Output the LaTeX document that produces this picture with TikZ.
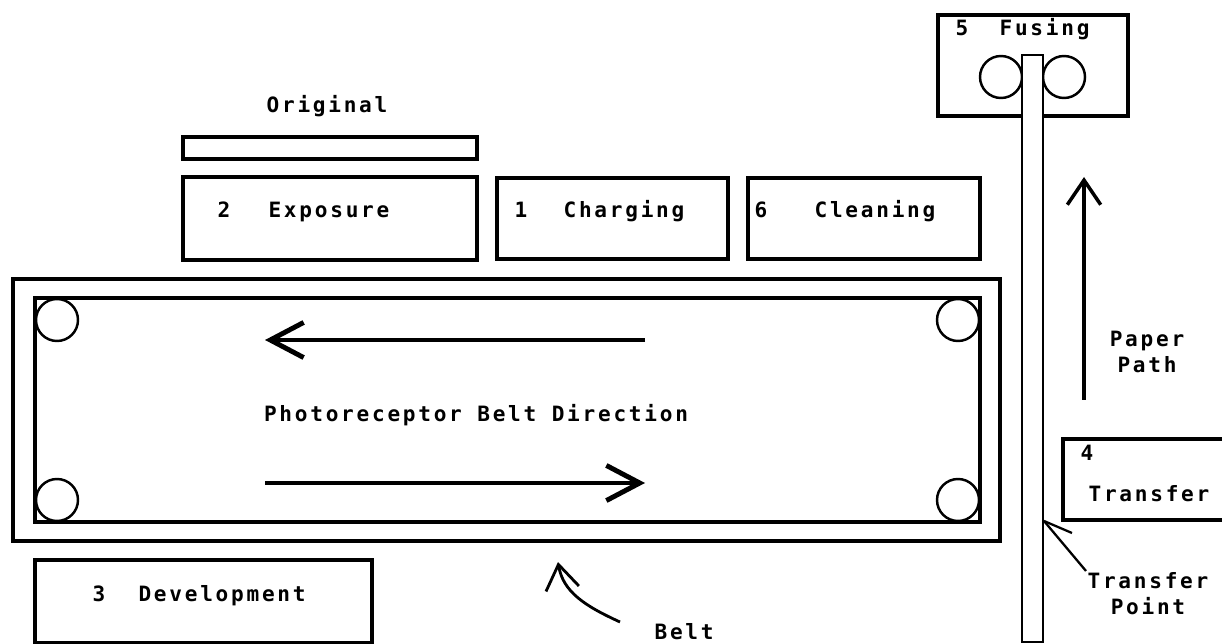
\documentclass[tikz,border=0pt]{standalone}
\usepackage{fontspec}
\newfontfamily\plotfont{DejaVu Sans Mono}[LetterSpace=13]
\usetikzlibrary{arrows.meta}

\begin{document}
\begin{tikzpicture}[x=0.02cm, y=-0.02cm, line width=1.8pt,
  every node/.style={font=\plotfont\bfseries\fontsize{12}{14.5}\selectfont, inner sep=0pt},
  stage/.style={draw, line width=1.8pt},
  roller/.style={draw, line width=1.4pt},
  bigarrow/.style={-{Straight Barb[length=19pt,width=20pt]}, line width=2.8pt},
  thinarrow/.style={-{Straight Barb[length=14pt,width=19pt]}, line width=2pt}]

\useasboundingbox (0,0) rectangle (1222,644);

% Original sheet and exposure
\node[anchor=base] (orig) at (327,113) {Original};
\draw[stage] (183,137) rectangle (477,159);
\draw[stage] (183,177) rectangle (477,260);
\node[anchor=base west] (n2) at (216,218) {2};
\node[anchor=base west] (expo) at (267,218) {Exposure};

% Charging and cleaning
\draw[stage] (497,178) rectangle (728,259);
\node[anchor=base west] (n1) at (513,218) {1};
\node[anchor=base west] (charg) at (562,218) {Charging};
\draw[stage] (748,178) rectangle (980,259);
\node[anchor=base west] (n6) at (753,218) {6};
\node[anchor=base west] (clean) at (813,218) {Cleaning};

% Belt (outer frame, inner loop, rollers)
\draw[stage] (13,279) rectangle (1000,541);
\draw[stage] (35,298) rectangle (980,522);
\foreach \x/\y in {57/320, 57/500, 958/320, 958/500} {
  \draw[roller] (\x,\y) circle[radius=21];
}

% Belt direction
\coordinate (topR) at (645,340);
\coordinate (topL) at (265,340);
\coordinate (botL) at (265,483);
\coordinate (botR) at (645,483);
\draw[bigarrow] (topR) -- (topL);
\draw[bigarrow] (botL) -- (botR);
\node[anchor=base] (beltdir) at (476,421) {Photoreceptor Belt Direction};

% Development
\draw[stage] (35,560) rectangle (372,643);
\node[anchor=base west] (n3) at (91,601) {3};
\node[anchor=base west] (devel) at (137,601) {Development};

% Belt label
\node[anchor=base west] (belt) at (653,639) {Belt};
\coordinate (beltTail) at (620,622);
\coordinate (beltTip) at (558,562);
\draw[thinarrow, line width=1.6pt] (beltTail) .. controls (585,606) and (563,592) .. (beltTip);

% Fusing
\draw[stage] (938,15) rectangle (1128,116);
\node[anchor=base west] (n5) at (954,36) {5};
\node[anchor=base west] (fusing) at (998,36) {Fusing};
\draw[roller] (1001,77) circle[radius=21];
\draw[roller] (1064,77) circle[radius=21];

% Paper path
\draw[roller, fill=white] (1022,55) rectangle (1043,642);
\coordinate (paperTail) at (1084,400);
\coordinate (paperTip) at (1084,177);
\draw[thinarrow] (paperTail) -- (paperTip);
\node[align=center] (paper) at (1147,352) {Paper\\Path};

% Transfer
\draw[stage] (1063,439) rectangle (1228,520);
\node[anchor=base west] (n4) at (1079,460) {4};
\node[anchor=base west] (transfer) at (1087,501) {Transfer};

% Transfer point
\coordinate (tp) at (1044,521);
\coordinate (tpTick) at (1072,533);
\node[anchor=north west, align=center] (tpnote) at (1086,571) {Transfer\\Point};
\draw[line width=1.3pt] (tp) -- (tpTick);
\draw[line width=1.3pt] (tp) -- (tpnote.north west);

\end{tikzpicture}
\end{document}
